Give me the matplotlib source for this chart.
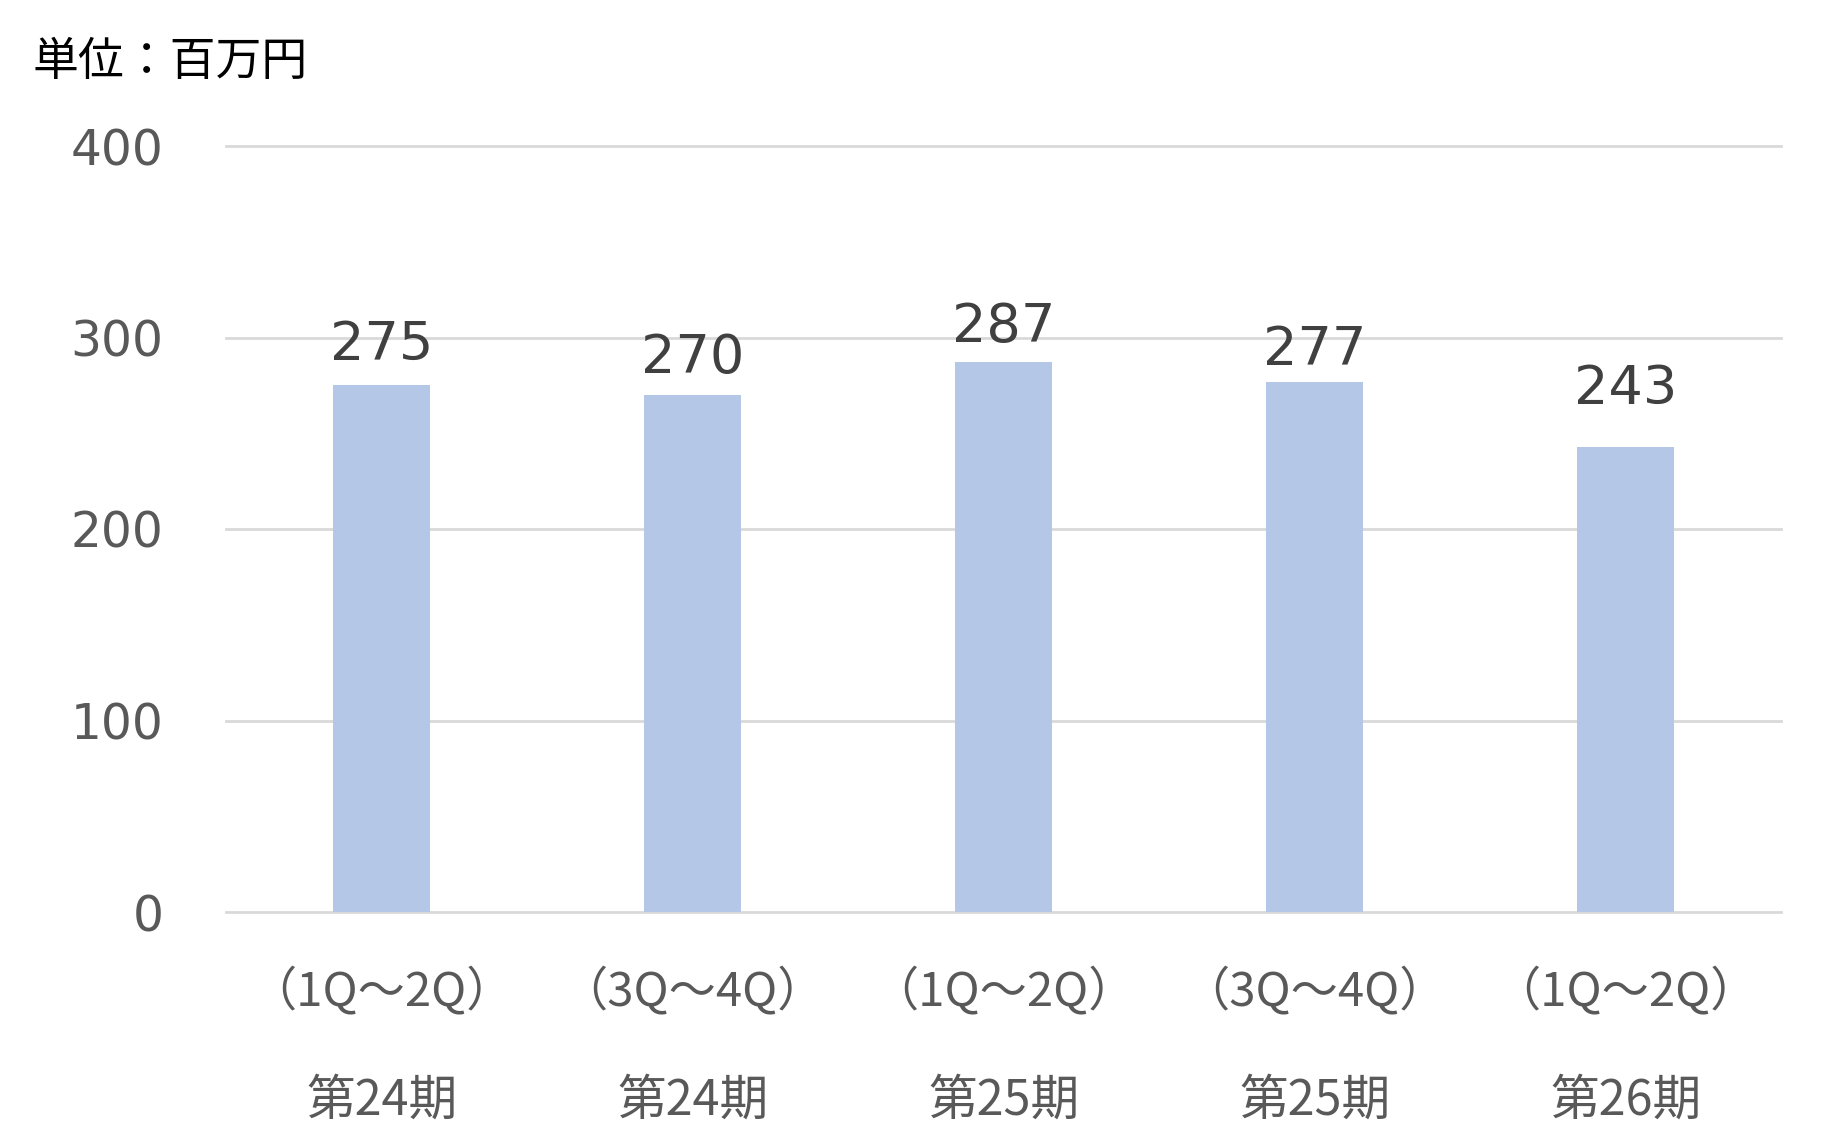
import matplotlib
matplotlib.use("Agg")
import matplotlib.pyplot as plt

periods = ["第24期", "第24期", "第25期", "第25期", "第26期"]
quarters = ["（1Q～2Q）", "（3Q～4Q）", "（1Q～2Q）", "（3Q～4Q）", "（1Q～2Q）"]
values = [275, 270, 287, 277, 243]
yticks = [0, 100, 200, 300, 400]
unit_label = "単位：百万円"

plt.rcParams['font.family'] = ['Noto Sans CJK JP', 'DejaVu Sans']

W, H = 1837, 1134
fig = plt.figure(figsize=(W / 100, H / 100), dpi=100)
ax = fig.add_axes([226 / W, 1 - 912 / H, (1781 - 226) / W, (912 - 146) / H])

x = list(range(len(values)))
bars = ax.bar(x, values, width=0.315, color="#b4c7e7", zorder=3)

ax.set_xlim(-0.5, len(values) - 0.5)
ax.set_ylim(0, 400)
ax.set_yticks(yticks)
ax.set_yticklabels([str(t) for t in yticks])
ax.tick_params(axis='y', length=0, pad=45, labelsize=35, labelcolor="#595959")
for lab in ax.get_yticklabels():
    lab.set_fontfamily(['DejaVu Sans'])
ax.set_xticks([])
for s in ax.spines.values():
    s.set_visible(False)
ax.yaxis.grid(True, color="#d9d9d9", linewidth=2.0, zorder=0)
for gl in ax.get_ygridlines():
    gl.set_clip_on(False)

# label gaps above bars (pixels), as placed in the original chart
label_gaps = [25, 22, 20, 17, 43]
for xi, v, g in zip(x, values, label_gaps):
    ax.annotate(str(v), xy=(xi, v), xytext=(0, g), textcoords='offset pixels',
                ha='center', va='baseline', fontsize=39, color="#404040",
                family=['DejaVu Sans'])

for xi, q, p in zip(x, quarters, periods):
    ax.annotate(q, xy=(xi, 0), xycoords=('data', 'axes fraction'),
                xytext=(0, -80), textcoords='offset pixels',
                ha='center', va='center', fontsize=34, color="#595959")
    ax.annotate(p, xy=(xi, 0), xycoords=('data', 'axes fraction'),
                xytext=(0, -189), textcoords='offset pixels',
                ha='center', va='center', fontsize=35, color="#595959")

fig.text(33 / W, 1 - 62 / H, unit_label, ha='left', va='center', fontsize=33, color="#000000")

fig.savefig("out.png", dpi=100, facecolor="white")
